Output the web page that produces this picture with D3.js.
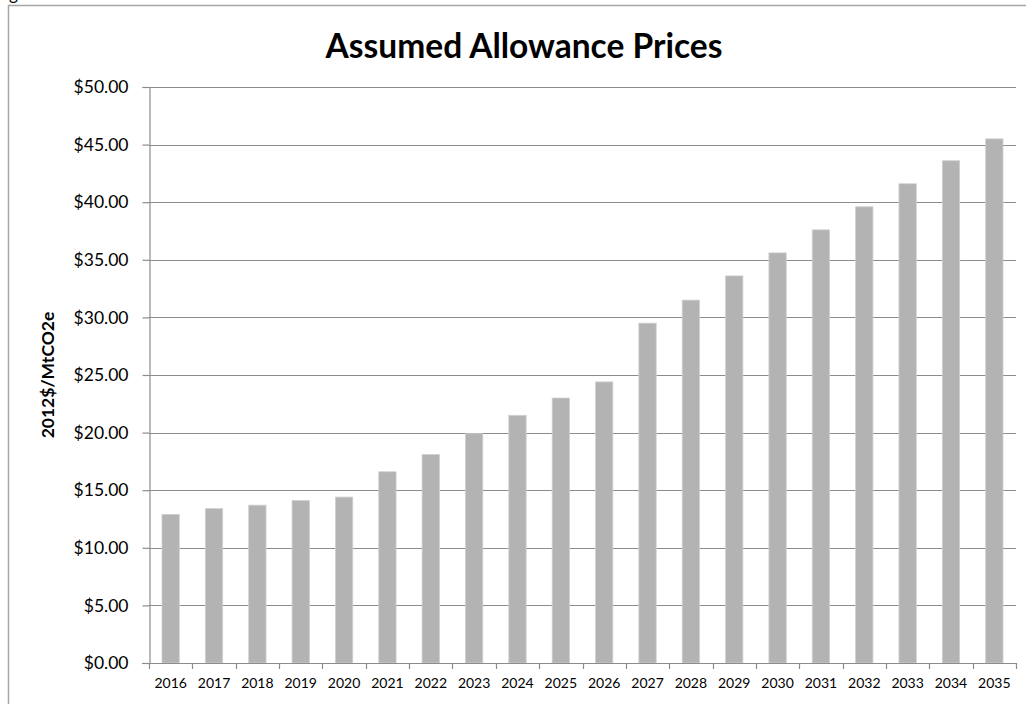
<!DOCTYPE html>
<html>
<head>
<meta charset="utf-8">
<script src="https://cdn.jsdelivr.net/npm/d3@7"></script>
<style>
  body { margin: 0; background: white; }
  svg { display: block; }
</style>
</head>
<body>
<div class="chart"></div>
<script>
    var years = ["2016","2017","2018","2019","2020","2021","2022","2023","2024","2025",
                 "2026","2027","2028","2029","2030","2031","2032","2033","2034","2035"];
    var prices = [12.9, 13.4, 13.7, 14.1, 14.4, 16.6, 18.1, 19.9, 21.5, 23.0,
                  24.4, 29.5, 31.5, 33.6, 35.6, 37.6, 39.6, 41.6, 43.6, 45.5];
    var yTicks = [0, 5, 10, 15, 20, 25, 30, 35, 40, 45, 50];

    var svg = d3.select(".chart")
                .append("svg")
                .attr("width", 1026)
                .attr("height", 704)
                .style("font-family", "Lato, 'Open Sans', sans-serif");

    // clipped caption text above the chart frame
    svg.append("text")
       .attr("x", 9)
       .attr("y", 0)
       .style("font-size", 17)
       .text("g");

    // chart frame
    svg.append("rect")
       .attr("x", 8.5)
       .attr("y", 5.5)
       .attr("width", 1030)
       .attr("height", 720)
       .attr("fill", "white")
       .attr("stroke", "#a6a6a6")
       .attr("stroke-width", 1.5);

    var plotLeft = 149, plotRight = 1016, plotTop = 87, plotBottom = 663;

    var x = d3.scaleBand()
              .domain(years)
              .range([plotLeft, plotRight])
              .paddingInner(0.6)
              .paddingOuter(0.3);

    var y = d3.scaleLinear()
              .domain([0, 50])
              .range([plotBottom, plotTop]);

    // gridlines
    svg.append("g")
       .selectAll("line")
       .data(yTicks.filter(function(d) { return d > 0; }))
       .join("line")
       .attr("x1", plotLeft)
       .attr("x2", plotRight)
       .attr("y1", function(d) { return Math.round(y(d)) + 0.5; })
       .attr("y2", function(d) { return Math.round(y(d)) + 0.5; })
       .attr("stroke", "#8c8c8c")
       .attr("stroke-width", 1.2);

    // bars
    svg.append("g")
       .selectAll("rect")
       .data(prices)
       .join("rect")
       .attr("x", function(d, i) { return x(years[i]); })
       .attr("y", function(d) { return y(d); })
       .attr("width", x.bandwidth())
       .attr("height", function(d) { return plotBottom - y(d); })
       .attr("fill", "#b3b3b3")
       .attr("stroke", "#d0d0d0")
       .attr("stroke-width", 0.8);

    // y axis
    var yAxis = svg.append("g")
       .attr("transform", "translate(" + (plotLeft + 0.5) + ",0)")
       .call(d3.axisLeft(y).tickValues(yTicks).tickSize(7).tickPadding(14)
               .tickFormat(function(d) { return "$" + d3.format(".2f")(d); }));
    yAxis.select(".domain").attr("stroke", "#8c8c8c").attr("stroke-width", 1.2);
    yAxis.selectAll(".tick line").attr("stroke", "#8c8c8c").attr("stroke-width", 1.2);
    yAxis.selectAll(".tick text")
         .style("font-size", 17.5)
         .style("font-family", "Lato, 'Open Sans', sans-serif")
         .attr("fill", "#000");

    // x axis: ticks sit on the band boundaries
    var xBounds = years.map(function(d, i) { return plotLeft + i * (plotRight - plotLeft) / years.length; });
    xBounds.push(plotRight);
    var xAxis = svg.append("g");
    xAxis.append("line")
         .attr("x1", plotLeft - 7)
         .attr("x2", plotRight)
         .attr("y1", plotBottom + 0.5)
         .attr("y2", plotBottom + 0.5)
         .attr("stroke", "#8c8c8c")
         .attr("stroke-width", 1.2);
    xAxis.selectAll(".xt")
         .data(xBounds)
         .join("line")
         .attr("class", "xt")
         .attr("x1", function(d) { return Math.round(d) + 0.5; })
         .attr("x2", function(d) { return Math.round(d) + 0.5; })
         .attr("y1", plotBottom)
         .attr("y2", plotBottom + 6)
         .attr("stroke", "#8c8c8c")
         .attr("stroke-width", 1.2);
    xAxis.selectAll(".xl")
         .data(years)
         .join("text")
         .attr("class", "xl")
         .attr("text-anchor", "middle")
         .attr("x", function(d) { return x(d) + x.bandwidth() / 2; })
         .attr("y", 688)
         .style("font-size", 14)
         .text(function(d) { return d; });

    // title
    svg.append("text")
       .attr("text-anchor", "middle")
       .attr("x", 524)
       .attr("y", 58)
       .style("font-size", 33.5)
       .style("font-weight", "bold")
       .text("Assumed Allowance Prices");

    // y axis title
    svg.append("text")
       .attr("text-anchor", "middle")
       .attr("transform", "translate(54,375) rotate(-90)")
       .style("font-size", 17.5)
       .style("font-weight", "bold")
       .text("2012$/MtCO2e");
</script>
</body>
</html>
